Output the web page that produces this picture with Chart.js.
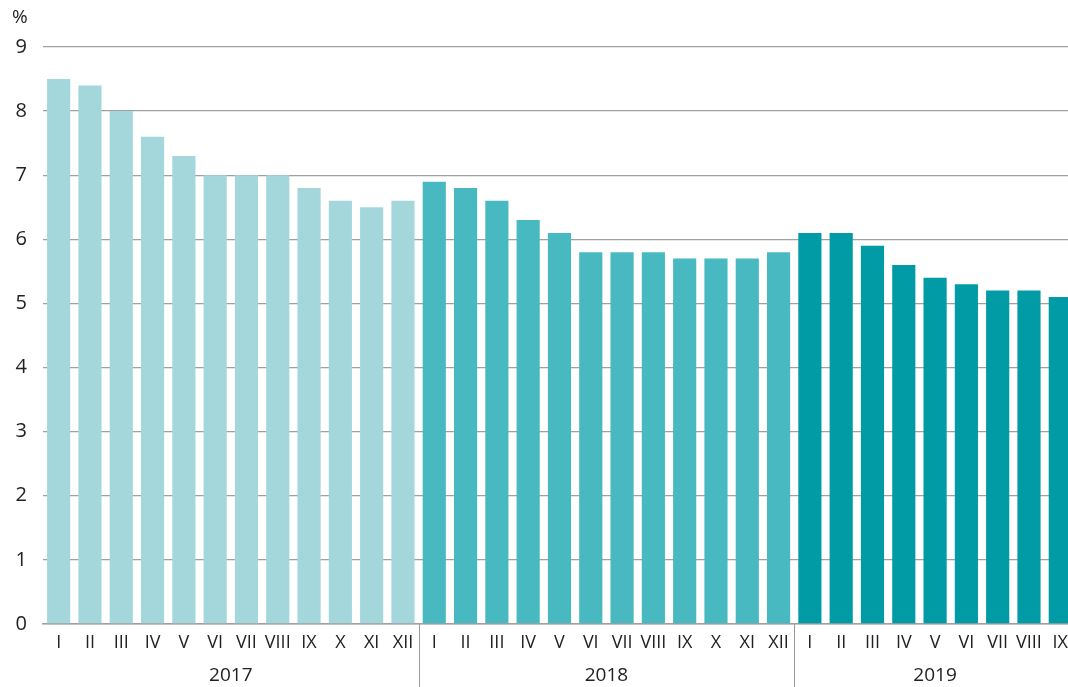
<!DOCTYPE html>
<html>
<head>
<meta charset="utf-8">
<script src="https://cdn.jsdelivr.net/npm/chart.js@4/dist/chart.umd.min.js"></script>
<style>
  html, body { margin: 0; padding: 0; background: #fff; overflow: hidden; }
  #wrap { width: 1076px; height: 687px; }
</style>
</head>
<body>
<div id="wrap"><canvas id="chart"></canvas></div>
<script>
const years = ['2017', '2018', '2019'];
const months = ['I', 'II', 'III', 'IV', 'V', 'VI', 'VII', 'VIII', 'IX', 'X', 'XI', 'XII'];
const monthsPerYear = [12, 12, 9];

const values2017 = [8.5, 8.4, 8.0, 7.6, 7.3, 7.0, 7.0, 7.0, 6.8, 6.6, 6.5, 6.6];
const values2018 = [6.9, 6.8, 6.6, 6.3, 6.1, 5.8, 5.8, 5.8, 5.7, 5.7, 5.7, 5.8];
const values2019 = [6.1, 6.1, 5.9, 5.6, 5.4, 5.3, 5.2, 5.2, 5.1];

const yearColors = ['#a3d7db', '#48b9c1', '#009ba5'];
const yTicks = [0, 1, 2, 3, 4, 5, 6, 7, 8, 9];

// build flat labels / values / colours from the per-year arrays
const labels = [];
const values = [];
const colors = [];
[values2017, values2018, values2019].forEach((arr, i) => {
  arr.forEach((v, j) => {
    labels.push(months[j]);
    values.push(v);
    colors.push(yearColors[i]);
  });
});

// year captions + separators under the axis
const yearAxisPlugin = {
  id: 'yearAxis',
  afterDraw(chart) {
    const ctx = chart.ctx;
    const x = chart.scales.x;
    const area = chart.chartArea;
    const step = x.getPixelForValue(1) - x.getPixelForValue(0);
    ctx.save();
    ctx.fillStyle = '#222';
    ctx.font = '19px "Open Sans"';
    ctx.textAlign = 'center';
    ctx.textBaseline = 'middle';
    let start = 0;
    monthsPerYear.forEach((n, i) => {
      const left = x.getPixelForValue(start) - step / 2;
      const right = x.getPixelForValue(start + n - 1) + step / 2;
      ctx.fillText(years[i], (left + right) / 2, 676);
      if (i > 0) {
        ctx.strokeStyle = '#9a9a9a';
        ctx.lineWidth = 1;
        ctx.beginPath();
        ctx.moveTo(Math.round(left) + 0.5, area.bottom);
        ctx.lineTo(Math.round(left) + 0.5, chart.height);
        ctx.stroke();
      }
      start += n;
    });
    // unit label
    ctx.textAlign = 'left';
    ctx.fillText('%', 12, 18);
    ctx.restore();
  }
};

new Chart(document.getElementById('chart'), {
  type: 'bar',
  data: {
    labels: labels,
    datasets: [{
      data: values,
      backgroundColor: colors,
      borderWidth: 0,
      barPercentage: 0.74,
      categoryPercentage: 1.0
    }]
  },
  options: {
    responsive: true,
    maintainAspectRatio: false,
    animation: false,
    layout: { padding: { top: 47, right: 0, left: 0, bottom: 0 } },
    plugins: {
      legend: { display: false },
      tooltip: { enabled: false }
    },
    scales: {
      x: {
        grid: { display: false, drawTicks: false },
        border: { display: true, color: '#a0a0a0', width: 1.5 },
        ticks: {
          color: '#222',
          font: { family: 'Open Sans', size: 18 },
          padding: 8,
          maxRotation: 0,
          minRotation: 0,
          autoSkip: false
        },
        afterFit(scale) { scale.height = 63; }
      },
      y: {
        min: 0,
        max: 9,
        afterBuildTicks(scale) { scale.ticks = yTicks.map(v => ({ value: v })); },
        grid: { color: '#a0a0a0', lineWidth: 1.3, drawTicks: false },
        border: { display: false },
        ticks: {
          color: '#222',
          font: { family: 'Open Sans', size: 20 },
          padding: 16
        },
        afterFit(scale) { scale.width = 43; }
      }
    }
  },
  plugins: [yearAxisPlugin]
});
</script>
</body>
</html>
